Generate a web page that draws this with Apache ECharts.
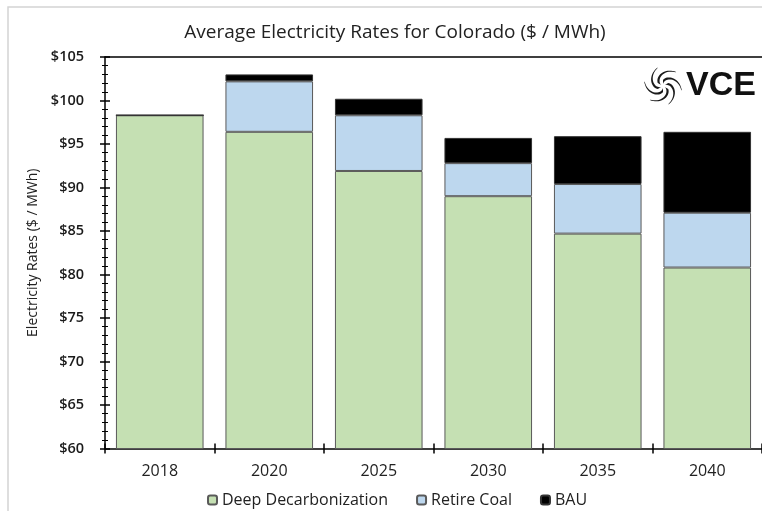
<!DOCTYPE html>
<html>
<head>
    <meta charset="utf-8">
    <title>Average Electricity Rates for Colorado</title>
    <script src="https://cdn.jsdelivr.net/npm/echarts@6/dist/echarts.min.js"></script>
    <style>
        html, body { margin: 0; padding: 0; background: #fff; }
    </style>
</head>
<body>
<div id="main" style="width: 762px;height:511px;"></div>
<script type="text/javascript">
// categories and stacked pieces ($ / MWh)
var years = ['2018', '2020', '2025', '2030', '2035', '2040'];
var deepDecarb = [98.3, 96.4, 91.9, 89.0, 84.7, 80.8];
var retireCoal = [0, 5.8, 6.4, 3.8, 5.7, 6.3];   // added on top of deep decarbonization
var bau = [0, 0.8, 1.9, 2.9, 5.5, 9.3];          // added on top of retire coal
var yTicks = ['$60', '$65', '$70', '$75', '$80', '$85', '$90', '$95', '$100', '$105'];

var font = '"Open Sans", "Noto Sans", sans-serif';
var myChart = echarts.init(document.getElementById('main'));

// logo swirl: tapering spiral arms round one centre
var swirl = [];
var cx = 663, cy = 86;
for (var k = 0; k < 6; k++) {
    var a0 = k * Math.PI / 3 - Math.PI / 2;
    var outer = [], inner = [];
    for (var s = 0; s <= 20; s++) {
        var t = s / 20;
        var r = 4 + 15 * t;
        var th = a0 + 1.8 * t;
        var w = 3.6 * (1 - t) + 0.5;
        outer.push([cx + (r + w / 2) * Math.cos(th), cy + (r + w / 2) * Math.sin(th)]);
        inner.unshift([cx + (r - w / 2) * Math.cos(th), cy + (r - w / 2) * Math.sin(th)]);
    }
    swirl.push({
        type: 'polygon', silent: true, z: 10,
        shape: {points: outer.concat(inner)},
        style: {fill: '#1a1a1a'}
    });
}

var gridBox = {left: 105, top: 57, width: 660, height: 391.5};

myChart.setOption({
    animation: false,
    title: {
        text: 'Average Electricity Rates for Colorado ($ / MWh)',
        left: 390, top: 18, textAlign: 'center',
        textStyle: {fontFamily: font, fontSize: 19, fontWeight: 'normal', color: '#222'}
    },
    legend: {
        left: 202, top: 487,
        itemWidth: 9, itemHeight: 9, itemGap: 28,
        textStyle: {fontFamily: font, fontSize: 16, color: '#222'},
        data: ['Deep Decarbonization', 'Retire Coal', 'BAU']
    },
    grid: [
        Object.assign({}, gridBox),
        Object.assign({}, gridBox)
    ],
    xAxis: [
        {
            type: 'category', data: years, gridIndex: 0,
            axisLine: {lineStyle: {color: '#000', width: 1.5}},
            axisTick: {show: true, length: 5, lineStyle: {color: '#000', width: 1.5}},
            axisLabel: {fontFamily: font, fontSize: 16, color: '#222', margin: 15}
        },
        {
            // inner half of the crossing ticks
            type: 'category', data: years, gridIndex: 1,
            axisLine: {show: false},
            axisTick: {show: true, inside: true, length: 5, lineStyle: {color: '#000', width: 1.5}},
            axisLabel: {show: false}
        },
        {
            // top frame line
            type: 'category', data: years, gridIndex: 1, position: 'top',
            axisLine: {lineStyle: {color: '#000', width: 1.5}},
            axisTick: {show: false},
            axisLabel: {show: false}
        }
    ],
    yAxis: [
        {
            type: 'value', gridIndex: 0, min: 60, max: 105, interval: 5,
            name: 'Electricity Rates ($ / MWh)', nameLocation: 'middle', nameGap: 65,
            nameTextStyle: {fontFamily: font, fontSize: 14, color: '#222'},
            axisLine: {show: true, lineStyle: {color: '#000', width: 1.5}},
            axisTick: {show: true, length: 5, lineStyle: {color: '#000', width: 1.5}},
            minorTick: {show: true, splitNumber: 5, length: 3, lineStyle: {color: '#000', width: 1}},
            splitLine: {show: false},
            axisLabel: {
                fontFamily: font, fontSize: 14.5, fontWeight: 600, color: '#1a1a1a', margin: 21,
                formatter: function (v) { return yTicks[Math.round((v - 60) / 5)]; }
            }
        },
        {
            type: 'value', gridIndex: 1, min: 60, max: 105, interval: 5, position: 'left',
            axisLine: {show: false},
            axisTick: {show: true, inside: true, length: 5, lineStyle: {color: '#000', width: 1.5}},
            minorTick: {show: true, splitNumber: 5, length: 3, lineStyle: {color: '#000', width: 1}},
            splitLine: {show: false},
            axisLabel: {show: false}
        }
    ],
    graphic: [
        {
            type: 'rect', silent: true, z: -10,
            shape: {x: 8, y: 7, width: 800, height: 600},
            style: {fill: null, stroke: '#d4d4d4', lineWidth: 1.5}
        },
        {
            type: 'text', left: 686, top: 69, z: 10,
            style: {text: 'VCE', font: 'bold 34px "Liberation Sans", Arial, sans-serif', fill: '#111'}
        }
    ].concat(swirl),
    series: [
        {
            name: 'Deep Decarbonization', type: 'bar', stack: 'rate', barWidth: '80%',
            itemStyle: {color: '#c5e0b3', borderColor: '#5a5a5a', borderWidth: 1},
            data: deepDecarb
        },
        {
            name: 'Retire Coal', type: 'bar', stack: 'rate',
            itemStyle: {color: '#bdd7ee', borderColor: '#5a5a5a', borderWidth: 1},
            data: retireCoal
        },
        {
            name: 'BAU', type: 'bar', stack: 'rate',
            itemStyle: {color: '#000', borderColor: '#333', borderWidth: 1},
            data: bau
        }
    ]
});
</script>

</body>
</html>
